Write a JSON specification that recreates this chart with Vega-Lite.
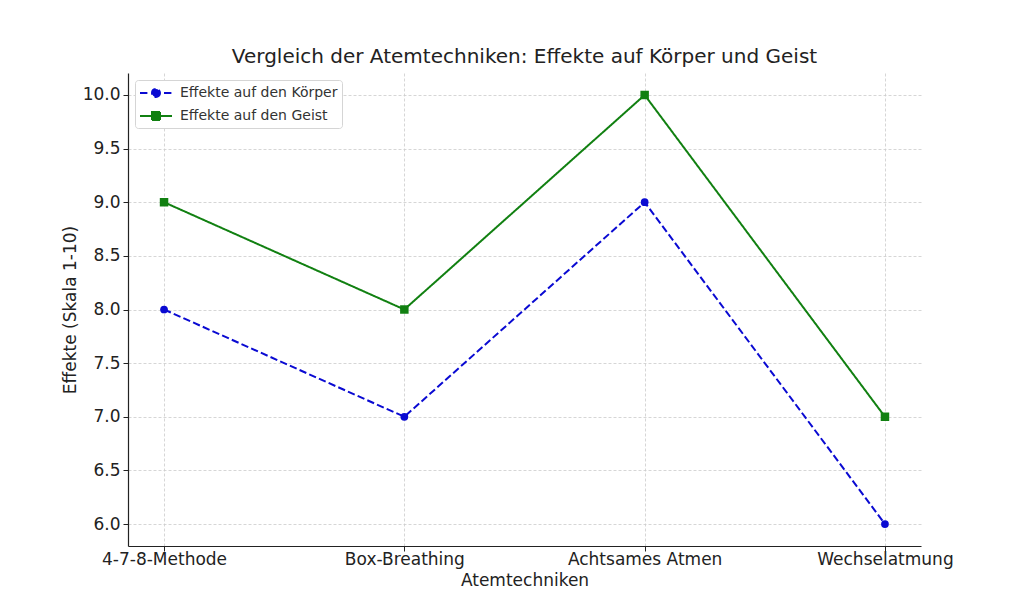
{
  "$schema": "https://vega.github.io/schema/vega-lite/v6.json",
  "width": 793,
  "height": 473,
  "autosize": {"type": "none"},
  "padding": {"left": 128, "top": 73, "right": 103, "bottom": 68},
  "background": "white",
  "title": {
    "text": "Vergleich der Atemtechniken: Effekte auf Körper und Geist",
    "font": "DejaVu Sans",
    "fontSize": 20,
    "fontWeight": "normal",
    "color": "#222222",
    "offset": 6
  },
  "config": {
    "view": {"stroke": null},
    "font": "DejaVu Sans"
  },
  "data": {
    "values": [
      {"technik": "4-7-8-Methode", "serie": "Effekte auf den Körper", "wert": 8},
      {"technik": "Box-Breathing", "serie": "Effekte auf den Körper", "wert": 7},
      {"technik": "Achtsames Atmen", "serie": "Effekte auf den Körper", "wert": 9},
      {"technik": "Wechselatmung", "serie": "Effekte auf den Körper", "wert": 6},
      {"technik": "4-7-8-Methode", "serie": "Effekte auf den Geist", "wert": 9},
      {"technik": "Box-Breathing", "serie": "Effekte auf den Geist", "wert": 8},
      {"technik": "Achtsames Atmen", "serie": "Effekte auf den Geist", "wert": 10},
      {"technik": "Wechselatmung", "serie": "Effekte auf den Geist", "wert": 7}
    ]
  },
  "encoding": {
    "x": {
      "field": "technik",
      "type": "nominal",
      "sort": ["4-7-8-Methode", "Box-Breathing", "Achtsames Atmen", "Wechselatmung"],
      "scale": {"type": "point", "padding": 0.15},
      "axis": {
        "title": "Atemtechniken",
        "labelAngle": 0,
        "labelFont": "DejaVu Sans",
        "labelFontSize": 17,
        "labelColor": "#222222",
        "labelPadding": 0,
        "titleFont": "DejaVu Sans",
        "titleFontSize": 17,
        "titleFontWeight": "normal",
        "titleColor": "#222222",
        "titlePadding": 5,
        "domainColor": "#222222",
        "domainWidth": 1.2,
        "tickColor": "#222222",
        "tickSize": 5,
        "tickWidth": 1,
        "grid": true,
        "gridColor": "#cccccc",
        "gridDash": [3, 2],
        "gridWidth": 0.8
      }
    },
    "y": {
      "field": "wert",
      "type": "quantitative",
      "scale": {"domain": [5.795, 10.205], "nice": false, "zero": false},
      "axis": {
        "title": "Effekte (Skala 1-10)",
        "values": [6, 6.5, 7, 7.5, 8, 8.5, 9, 9.5, 10],
        "format": ".1f",
        "labelFont": "DejaVu Sans",
        "labelFontSize": 17,
        "labelColor": "#222222",
        "labelPadding": 3,
        "titleFont": "DejaVu Sans",
        "titleFontSize": 17,
        "titleFontWeight": "normal",
        "titleColor": "#222222",
        "titlePadding": 3,
        "domainColor": "#222222",
        "domainWidth": 1.2,
        "tickColor": "#222222",
        "tickSize": 5,
        "tickWidth": 1,
        "grid": true,
        "gridColor": "#cccccc",
        "gridDash": [3, 2],
        "gridWidth": 0.8
      }
    }
  },
  "layer": [
    {
      "mark": {"type": "line", "strokeWidth": 2},
      "encoding": {
        "color": {
          "field": "serie",
          "type": "nominal",
          "sort": ["Effekte auf den Körper", "Effekte auf den Geist"],
          "scale": {"domain": ["Effekte auf den Körper", "Effekte auf den Geist"], "range": ["#0a0ad2", "#118011"]},
          "legend": {
            "title": null,
            "orient": "top-left",
            "offset": 7,
            "padding": 4,
            "rowPadding": 6,
            "strokeColor": "#d5d5d5",
            "fillColor": "white",
            "cornerRadius": 3,
            "symbolSize": 256,
            "labelOffset": 23,
            "labelFont": "DejaVu Sans",
            "labelFontSize": 14,
            "labelColor": "#333333",
            "labelLimit": 400,
            "encode": {
              "symbols": {
                "update": {
                  "shape": {"signal": "datum.value === 'Effekte auf den Körper' ? 'M-1,0H0M2,0H3M1.5,0A0.5,0.5,0,1,1,0.5,0A0.5,0.5,0,1,1,1.5,0Z' : 'M-1,0H3M0.5,-0.5H1.5V0.5H0.5Z'"},
                  "fill": {"signal": "datum.value === 'Effekte auf den Körper' ? '#0a0ad2' : '#118011'"},
                  "stroke": {"signal": "datum.value === 'Effekte auf den Körper' ? '#0a0ad2' : '#118011'"},
                  "strokeWidth": {"value": 2},
                  "strokeDash": {"value": []},
                  "size": {"value": 256},
                  "opacity": {"value": 1}
                }
              }
            }
          }
        },
        "strokeDash": {
          "field": "serie",
          "type": "nominal",
          "scale": {"domain": ["Effekte auf den Körper", "Effekte auf den Geist"], "range": [[7.4, 3.2], [1, 0]]},
          "legend": null
        }
      }
    },
    {
      "transform": [{"filter": "datum.serie === 'Effekte auf den Körper'"}],
      "mark": {"type": "point", "filled": true, "opacity": 1, "shape": "circle", "size": 60, "color": "#0a0ad2"}
    },
    {
      "transform": [{"filter": "datum.serie === 'Effekte auf den Geist'"}],
      "mark": {"type": "point", "filled": true, "opacity": 1, "shape": "square", "size": 72, "color": "#118011"}
    }
  ]
}
